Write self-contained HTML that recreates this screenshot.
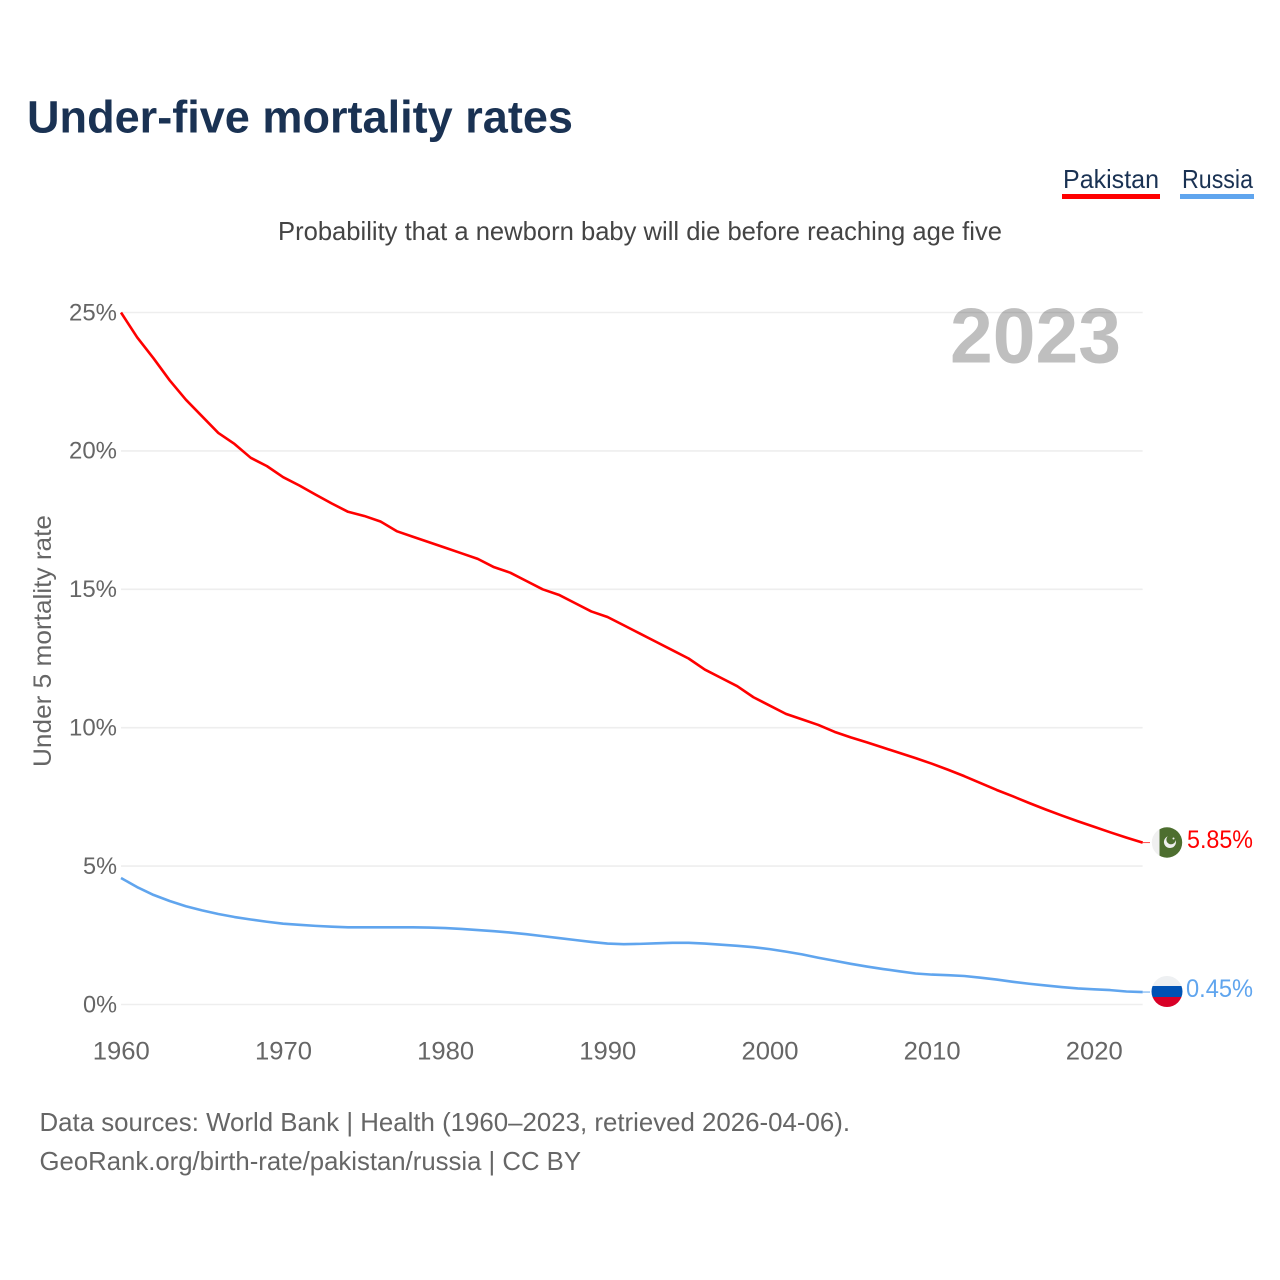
<!DOCTYPE html>
<html lang="en">
<head>
<meta charset="utf-8">
<title>Under-five mortality rates</title>
<style>
html,body{margin:0;padding:0;background:#fff;}
svg{display:block;font-family:"Liberation Sans",sans-serif;}
</style>
</head>
<body>
<svg id="chart" xmlns="http://www.w3.org/2000/svg" width="1280" height="1280" viewBox="0 0 1280 1280">
  <rect x="0" y="0" width="1280" height="1280" fill="#fff"/>
  <text x="27" y="132.5" font-size="45" font-weight="700" fill="#1a3253" textLength="546" lengthAdjust="spacingAndGlyphs">Under-five mortality rates</text>
  <text x="278" y="240" font-size="26" fill="#444" textLength="724" lengthAdjust="spacingAndGlyphs">Probability that a newborn baby will die before reaching age five</text>

  <g>
    <text x="1063" y="188" font-size="26" fill="#1a3253" textLength="96" lengthAdjust="spacingAndGlyphs">Pakistan</text>
    <rect x="1062" y="194" width="98" height="5" fill="#ff0000"/>
  </g>
  <g>
    <text x="1182" y="188" font-size="26" fill="#1a3253" textLength="71" lengthAdjust="spacingAndGlyphs">Russia</text>
    <rect x="1180" y="194" width="74" height="5" fill="#60a5ee"/>
  </g>

  <text x="950" y="362.5" font-size="78" font-weight="700" fill="#bfbfbf" textLength="171" lengthAdjust="spacingAndGlyphs">2023</text>

  <g id="grid"></g>
  <g id="yticks"></g>
  <g id="xticks"></g>

  <text transform="translate(51,767) rotate(-90)" x="0" y="0" font-size="25" fill="#666" textLength="252" lengthAdjust="spacingAndGlyphs">Under 5 mortality rate</text>

  <g id="series"></g>

  <defs>
    <clipPath id="flag-clip-pk"><circle cx="1167" cy="842.5" r="15.2"/></clipPath>
    <clipPath id="flag-clip-ru"><circle cx="1167" cy="991.5" r="15.5"/></clipPath>
  </defs>
  <g clip-path="url(#flag-clip-pk)">
    <rect x="1150" y="826" width="9.5" height="34" fill="#f0f0f0"/>
    <rect x="1159.5" y="826" width="24" height="34" fill="#4d6e2f"/>
    <path d="M1175.6 840A6 6 0 1 1 1167.8 836.4A4.6 4.6 0 1 0 1175.6 840z" fill="#eee"/>
    <circle cx="1173.5" cy="838.5" r="1" fill="#eee"/>
  </g>
  <g clip-path="url(#flag-clip-ru)">
    <rect x="1150" y="975" width="34" height="11" fill="#eef0f2"/>
    <rect x="1150" y="986" width="34" height="11" fill="#0052b4"/>
    <rect x="1150" y="997" width="34" height="11" fill="#d80027"/>
  </g>

  <text x="1187" y="848" font-size="25" fill="#ff0000" textLength="66" lengthAdjust="spacingAndGlyphs">5.85%</text>
  <text x="1186" y="997" font-size="25" fill="#60a5ee" textLength="67" lengthAdjust="spacingAndGlyphs">0.45%</text>

  <text x="39.5" y="1131" font-size="26" fill="#666" textLength="810.5" lengthAdjust="spacingAndGlyphs">Data sources: World Bank | Health (1960–2023, retrieved 2026-04-06).</text>
  <text x="39.5" y="1170" font-size="26" fill="#666" textLength="541.5" lengthAdjust="spacingAndGlyphs">GeoRank.org/birth-rate/pakistan/russia | CC BY</text>
</svg>
<script>
var startYear = 1960;
var yTickValues = [0, 5, 10, 15, 20, 25];
var yTickLabels = ['0%', '5%', '10%', '15%', '20%', '25%'];
var xTickValues = [1960, 1970, 1980, 1990, 2000, 2010, 2020];
var xTickLabels = ['1960', '1970', '1980', '1990', '2000', '2010', '2020'];
var pakistanValues = [25.0, 24.1, 23.35, 22.55, 21.85, 21.25, 20.65, 20.25, 19.75, 19.45,
  19.05, 18.75, 18.42, 18.1, 17.8, 17.65, 17.45, 17.1, 16.9, 16.7,
  16.5, 16.3, 16.1, 15.8, 15.6, 15.3, 15.0, 14.8, 14.5, 14.2,
  14.0, 13.7, 13.4, 13.1, 12.8, 12.5, 12.1, 11.8, 11.5, 11.1,
  10.8, 10.5, 10.3, 10.1, 9.85, 9.65, 9.47, 9.28, 9.09, 8.9,
  8.7, 8.48, 8.25, 8.0, 7.75, 7.52, 7.28, 7.05, 6.83, 6.62,
  6.42, 6.22, 6.03, 5.85];
var russiaValues = [4.57, 4.24, 3.96, 3.74, 3.55, 3.4, 3.27, 3.16, 3.07, 2.99,
  2.92, 2.88, 2.84, 2.81, 2.79, 2.79, 2.79, 2.79, 2.79, 2.78,
  2.76, 2.73, 2.69, 2.65, 2.6, 2.54, 2.47, 2.4, 2.33, 2.26,
  2.2, 2.18, 2.19, 2.21, 2.23, 2.23, 2.2, 2.16, 2.12, 2.07,
  2.0, 1.91, 1.81, 1.69, 1.58, 1.47, 1.37, 1.28, 1.2, 1.12,
  1.08, 1.06, 1.03, 0.97, 0.9, 0.82, 0.75, 0.69, 0.63, 0.58,
  0.55, 0.52, 0.47, 0.45];

var SVG_NS = 'http://www.w3.org/2000/svg';
function xScale(year) { return 121 + (year - 1960) * 16.217; }
function yScale(value) { return 1004.5 - value * 27.68; }
function pointsFor(values) {
  return values.map(function (v, i) {
    return xScale(startYear + i).toFixed(2) + ',' + yScale(v).toFixed(2);
  }).join(' ');
}
var lastYear = startYear + pakistanValues.length - 1;

var gridGroup = document.getElementById('grid');
var yGroup = document.getElementById('yticks');
var xGroup = document.getElementById('xticks');
var seriesGroup = document.getElementById('series');

yTickValues.forEach(function (v, i) {
  var line = document.createElementNS(SVG_NS, 'line');
  
  
  line.setAttribute('x1', xScale(startYear));
  line.setAttribute('x2', xScale(lastYear));
  line.setAttribute('y1', yScale(v));
  line.setAttribute('y2', yScale(v));
  line.setAttribute('stroke', '#000');
  line.setAttribute('stroke-opacity', '0.067');
  line.setAttribute('stroke-width', '1.6');
  gridGroup.appendChild(line);

  var label = document.createElementNS(SVG_NS, 'text');
  
  
  label.setAttribute('x', '117');
  label.setAttribute('y', yScale(v) + 7.8);
  label.setAttribute('text-anchor', 'end');
  label.setAttribute('font-size', '24.5');
  label.setAttribute('fill', '#666');
  label.setAttribute('textLength', yTickLabels[i].length === 3 ? '48' : '34');
  label.setAttribute('lengthAdjust', 'spacingAndGlyphs');
  label.textContent = yTickLabels[i];
  yGroup.appendChild(label);
});

xTickValues.forEach(function (year, i) {
  var label = document.createElementNS(SVG_NS, 'text');
  
  
  label.setAttribute('x', xScale(year) + 0.3);
  label.setAttribute('y', '1059.5');
  label.setAttribute('text-anchor', 'middle');
  label.setAttribute('font-size', '25');
  label.setAttribute('fill', '#666');
  label.setAttribute('textLength', '57');
  label.setAttribute('lengthAdjust', 'spacingAndGlyphs');
  label.textContent = xTickLabels[i];
  xGroup.appendChild(label);
});

var pakistanLine = document.createElementNS(SVG_NS, 'polyline');


pakistanLine.setAttribute('points', pointsFor(pakistanValues));
pakistanLine.setAttribute('fill', 'none');
pakistanLine.setAttribute('stroke', '#ff0000');
pakistanLine.setAttribute('stroke-width', '2.6');
pakistanLine.setAttribute('stroke-linejoin', 'round');
seriesGroup.appendChild(pakistanLine);

var russiaLine = document.createElementNS(SVG_NS, 'polyline');


russiaLine.setAttribute('points', pointsFor(russiaValues));
russiaLine.setAttribute('fill', 'none');
russiaLine.setAttribute('stroke', '#60a5ee');
russiaLine.setAttribute('stroke-width', '2.6');
russiaLine.setAttribute('stroke-linejoin', 'round');
seriesGroup.appendChild(russiaLine);

var pakistanConnector = document.createElementNS(SVG_NS, 'line');


pakistanConnector.setAttribute('x1', xScale(lastYear));
pakistanConnector.setAttribute('x2', '1150');
pakistanConnector.setAttribute('y1', yScale(pakistanValues[pakistanValues.length - 1]));
pakistanConnector.setAttribute('y2', yScale(pakistanValues[pakistanValues.length - 1]));
pakistanConnector.setAttribute('stroke', '#ff0000');
pakistanConnector.setAttribute('stroke-width', '1');
pakistanConnector.setAttribute('opacity', '0.7');
seriesGroup.appendChild(pakistanConnector);

var russiaConnector = document.createElementNS(SVG_NS, 'line');


russiaConnector.setAttribute('x1', xScale(lastYear));
russiaConnector.setAttribute('x2', '1150');
russiaConnector.setAttribute('y1', yScale(russiaValues[russiaValues.length - 1]));
russiaConnector.setAttribute('y2', yScale(russiaValues[russiaValues.length - 1]));
russiaConnector.setAttribute('stroke', '#60a5ee');
russiaConnector.setAttribute('stroke-width', '1');
seriesGroup.appendChild(russiaConnector);
</script>
</body>
</html>
